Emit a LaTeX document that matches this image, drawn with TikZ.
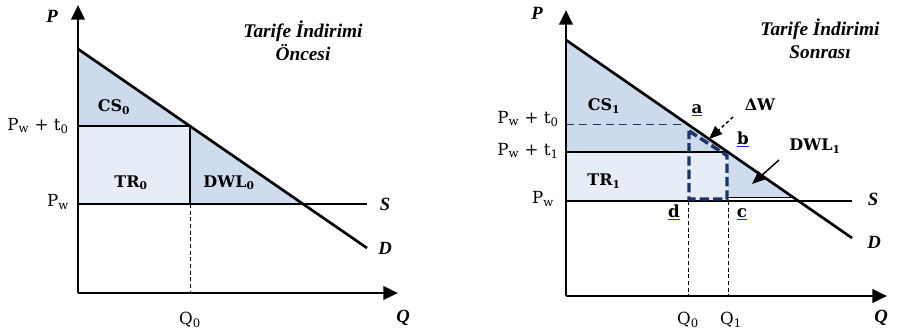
\documentclass[tikz,border=0pt]{standalone}
\usepackage{amsmath}
\usepackage{fontspec}
\setmainfont{Liberation Serif}
\newfontfamily\labf{DejaVu Serif}
\usetikzlibrary{arrows.meta}
\definecolor{csfill}{HTML}{CCDAEC}
\definecolor{trfill}{HTML}{E6EDF6}
\definecolor{dwlfill}{HTML}{CFDCED}
\definecolor{navy}{HTML}{1B3568}
\definecolor{ulblue}{HTML}{1030F0}
\newcommand{\ulab}[1]{\textcolor{ulblue}{\underline{\textcolor{black}{\textbf{#1}}}}}
\newcommand{\sbs}[1]{$_{\text{#1}}$}
\tikzset{
  axis/.style={line width=2.2pt,-{Triangle[width=10pt,length=11pt]}},
  curve/.style={line width=2pt},
  thinline/.style={line width=1.6pt},
  guide/.style={line width=0.7pt,dash pattern=on 3pt off 2pt},
  lbl/.style={inner sep=0pt,font=\fontsize{12.5}{14}\selectfont\labf},
  blab/.style={inner sep=0pt,font=\fontsize{12}{14}\selectfont\labf\bfseries},
  ital/.style={inner sep=0pt,font=\fontsize{14}{16}\selectfont\bfseries\itshape},
  ttl/.style={inner sep=0pt,font=\fontsize{14.5}{17}\selectfont\bfseries\itshape,align=center},
  pointer/.style={line width=1.1pt,-{Triangle[width=8pt,length=10pt]}},
}
\begin{document}
\begin{tikzpicture}[x=0.75pt,y=-0.75pt]
\useasboundingbox (0,0) rectangle (911,329);
% ================= LEFT =================
\coordinate (LO) at (78,293);
\coordinate (LYt) at (78,5);
\coordinate (LXe) at (398,293);
\coordinate (LDa) at (78,49);
\coordinate (LDb) at (367,248);
\coordinate (LT0) at (78,126);
\coordinate (LA) at (190,126);
\coordinate (LPw) at (78,204);
\coordinate (LQ0) at (190,204);
\coordinate (LQ0b) at (190,293);
\coordinate (LX) at (303,204);
\coordinate (LSe) at (367,204);
\fill[csfill] (LDa) -- (LA) -- (LT0) -- cycle;
\fill[trfill] (LT0) rectangle (LQ0);
\fill[dwlfill] (LA) -- (LX) -- (LQ0) -- cycle;
\draw[thinline] (LT0) -- (LA) -- (LQ0);
\draw[thinline] (LPw) -- (LSe);
\draw[guide] (LQ0) -- (LQ0b);
\draw[curve] (LDa) -- (LDb);
\draw[axis] (LO) -- (LYt);
\draw[axis] (LO) -- (LXe);
\node[ital] (lP) at (52,16) {P};
\node[ital] (lQ) at (403,318) {Q};
\node[ital] (lS) at (385,204) {S};
\node[ital] (lD) at (385,248) {D};
\node[ttl] (lT) at (303,41) {Tarife İndirimi\\Öncesi};
\node[lbl] (lpt) at (38,126) {P\sbs{w} + t\sbs{0}};
\node[lbl] (lpw) at (58,202) {P\sbs{w}};
\node[lbl] (lq0) at (190,320) {Q\sbs{0}};
\node[blab] (lcs) at (114,107) {CS\sbs{0}};
\node[blab] (ltr) at (131,183) {TR\sbs{0}};
\node[blab] (ldwl) at (229,183) {DWL\sbs{0}};
% ================= RIGHT =================
\coordinate (RO) at (566,296);
\coordinate (RYt) at (566,10);
\coordinate (RXe) at (887,296);
\coordinate (RDa) at (566,40);
\coordinate (RDb) at (852,238);
\coordinate (RT0) at (566,124.5);
\coordinate (RA) at (688,124.5);
\coordinate (RT1) at (566,152.2);
\coordinate (RB) at (728,152.2);
\coordinate (RPw) at (566,201);
\coordinate (RQ0) at (688,201);
\coordinate (RQ1) at (728,201);
\coordinate (RQ0b) at (688,296);
\coordinate (RQ1b) at (728,296);
\coordinate (RX) at (798.6,201);
\coordinate (RSe) at (852,201);
\coordinate (RW1) at (728,197.5);
\coordinate (RW2) at (793.5,197.5);
\fill[csfill] (RDa) -- (RB) -- (RT1) -- cycle;
\fill[trfill] (RT1) rectangle (RQ1);
\fill[dwlfill] (RB) -- (RW2) -- (RW1) -- cycle;
\draw[line width=0.6pt] (RW1) -- (RW2);
\draw[thinline] (RT1) -- (RB);
\draw[thinline] (RPw) -- (RSe);
\draw[navy,line width=1.4pt,dash pattern=on 6pt off 4pt] (RT0) -- (RA);
\draw[guide] (RQ0) -- (RQ0b);
\draw[guide] (RQ1) -- (RQ1b);
\coordinate (BR1) at (689,131);
\coordinate (BR2) at (727,155.5);
\coordinate (BR3) at (727,199);
\coordinate (BR4) at (689,199);
\draw[navy,line width=2.6pt,dash pattern=on 7pt off 3pt,line join=miter] (BR1) -- (BR2) -- (BR3) -- (BR4) -- cycle;
\draw[curve] (RDa) -- (RDb);
\draw[axis] (RO) -- (RYt);
\draw[axis] (RO) -- (RXe);
\node[ital] (rP) at (537,13) {P};
\node[ital] (rQ) at (881,318) {Q};
\node[ital] (rS) at (873,199) {S};
\node[ital] (rD) at (874,242) {D};
\node[ttl] (rT) at (820,39) {Tarife İndirimi\\Sonrası};
\node[lbl] (rpt0) at (528,119) {P\sbs{w} + t\sbs{0}};
\node[lbl] (rpt1) at (528,151) {P\sbs{w} + t\sbs{1}};
\node[lbl] (rpw) at (543,199) {P\sbs{w}};
\node[lbl] (rq0) at (688,320) {Q\sbs{0}};
\node[lbl] (rq1) at (731,320) {Q\sbs{1}};
\node[blab] (rcs) at (604,106) {CS\sbs{1}};
\node[blab] (rtr) at (604,181) {TR\sbs{1}};
\node[blab] (rdwl) at (815,146) {DWL\sbs{1}};
\node[blab] (rdw) at (760,105) {ΔW};
\node[lbl,anchor=base] (ra) at (697,113) {\ulab{a}};
\node[lbl,anchor=base] (rb) at (743,144) {\ulab{b}};
\node[lbl,anchor=base] (rc) at (742,217) {\ulab{c}};
\node[lbl,anchor=base] (rd) at (674,217) {\ulab{d}};
\coordinate (dwS) at (733,117);
\coordinate (dwE) at (709,139);
\draw[pointer,dash pattern=on 2.5pt off 2pt] (dwS) -- (dwE);
\coordinate (dlS) at (779,160);
\coordinate (dlE) at (752,184);
\draw[pointer] (dlS) -- (dlE);
\end{tikzpicture}
\end{document}
